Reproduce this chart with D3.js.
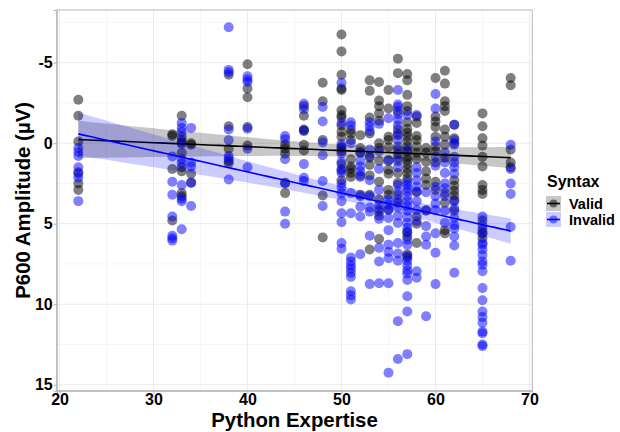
<!DOCTYPE html>
<html>
<head>
<meta charset="utf-8">
<script src="https://cdn.jsdelivr.net/npm/d3@7"></script>
<style>
  body { margin: 0; background: #fff; }
  text { font-family: "Liberation Sans", Arial, sans-serif; font-weight: bold; }
</style>
</head>
<body>
<svg id="chart" width="620" height="432"></svg>
<script>
// expertise levels (x) and P600 amplitudes read per level
const expertise = [22, 32, 33, 34, 38, 40, 44, 46, 48, 50, 51, 52, 53, 54, 55, 56, 57, 58, 59, 60, 61, 62, 65, 68];

const validAmp = [
    [-2.7, -1.7, -0.1, 1.8, 2.5, 2.9],
    [-0.55, -0.45, 1.6, 4.8],
    [-1.7, -0.2, -0.05, 0.6, 1.5, 1.75, 3.1, 3.3],
    [0, 0.1, 1.9, 2.45],
    [-4.25, -1.05, 0.35, 1.1, 1.25],
    [-4.9, -3.4, -2.85, -1.0, 0.15],
    [0.1, 0.35, 0.65, 2.45, 3.1],
    [-2.3, -1.7, -0.85, -0.75, 0.1, 0.45],
    [-3.75, -2.6, -0.2, 3.25, 5.85],
    [-6.75, -5.7, -4.25, -3.4, -3.3, -2.05, -1.75, -1.6, -1.1, -0.7, -0.4, 0.2, 0.5, 1.3, 1.7, 2.3],
    [-0.8, -0.6, -0.2, 1.0, 1.45, 1.6, 1.85, 2.1],
    [-0.5, 0.3, 0.6, 2.0, 3.2],
    [-3.9, -3.25, -1.6, -0.6, 0.9, 1.35, 2.0, 3.2, 6.6],
    [-3.8, -2.65, -2.3, -1.85, -1.4, 0.0, 0.3, 1.1, 2.4, 3.5, 4.1, 4.5, 5.95],
    [-3.3, -2.15, -0.4, -0.2, 0.25, 1.05, 1.65, 1.9, 2.9, 3.2, 4.1],
    [-5.25, -4.35, -2.0, -0.85, -0.5, 0.2, 0.65, 1.1, 1.85, 2.45, 3.2, 3.7],
    [-4.3, -3.9, -3.0, -2.3, -2.0, -1.3, -0.9, -0.65, -0.4, -0.1, 0.2, 0.5, 0.85, 1.05, 1.3, 1.6, 1.85, 2.2, 5.5, 5.8, 6.9, 7.1],
    [-1.65, -1.25, -0.45, -0.2, 0.2, 0.6, 1.0, 3.05, 4.55, 5.0, 6.2],
    [0.3, 0.6, 1.15, 1.75, 2.2, 2.6, 4.2],
    [-4.05, -1.65, -1.35, -1.0, -0.4, 0.2, 0.5, 1.2, 2.4, 2.9],
    [-4.5, -3.7, -2.6, -2.3, -2.0, -0.85, -0.4, 0.1, 0.9, 3.1, 3.7, 5.4, 5.6],
    [-1.15, -0.3, 0.0, 2.3, 2.65, 2.95, 3.25, 3.55, 4.2],
    [-1.85, -1.05, -0.3, 0.15, 0.85, 1.45, 2.6, 2.9, 3.15, 4.8, 5.35, 5.6, 5.9],
    [-4.05, -3.6, 0.4, 1.2, 1.5]
];

const invalidAmp = [
    [0.3, 0.55, 0.8, 1.5, 1.9, 2.15, 3.6],
    [0.83, 2.4, 3.2, 4.55, 5.75, 5.9, 6.05],
    [-1.25, -0.95, -0.7, -0.4, 0.05, 1.0, 1.25, 2.6, 3.45, 3.6, 5.35],
    [-0.95, 1.2, 1.45, 2.45, 3.9],
    [-7.2, -4.55, -4.4, -0.85, -0.2, 0.8, 0.95, 2.25],
    [-4.15, -3.95, -3.8, -0.9, 0.35, 1.5],
    [-0.45, -0.25, 1.0, 2.5, 4.25, 5.0],
    [-2.45, -2.1, -0.8, 1.3, 2.15, 2.35],
    [-2.25, -1.35, -0.05, 0.75, 2.35, 3.9],
    [-3.75, -1.25, 0.05, 0.3, 0.65, 1.15, 1.6, 1.85, 2.5, 2.75, 3.1, 3.6, 4.35, 4.9, 6.2, 6.55],
    [-1.3, -1.1, 0.0, 3.1, 4.35, 7.1, 7.35, 7.6, 7.8, 8.05, 8.3, 9.2, 9.45, 9.7],
    [0.55, 1.1, 1.45, 1.75, 2.1, 3.3, 3.95, 4.55, 6.9],
    [-1.3, -1.05, -0.75, 0.4, 0.8, 2.3, 3.3, 4.0, 4.25, 5.75, 8.75],
    [-1.2, 0.5, 1.6, 2.9, 3.85, 4.25, 4.7, 6.5, 7.35, 8.7],
    [-1.55, 1.1, 3.5, 3.8, 4.15, 4.65, 5.4, 6.3, 6.75, 7.15, 8.7, 14.25],
    [-3.3, -2.4, -2.25, -1.8, -1.45, -1.1, -0.6, -0.2, 0.4, 0.95, 1.5, 2.6, 3.0, 3.5, 3.95, 4.5, 4.95, 6.2, 6.85, 7.3, 11.05, 13.4],
    [-1.75, 0.4, 2.4, 2.6, 2.8, 3.0, 3.3, 3.6, 3.9, 4.2, 4.6, 4.95, 5.25, 5.55, 6.0, 6.3, 7.0, 7.3, 7.6, 7.9, 8.1, 8.5, 9.5, 10.45, 13.1],
    [-1.75, 1.5, 1.85, 2.3, 2.7, 3.0, 3.6, 4.15, 4.85, 7.95, 8.35],
    [3.05, 4.15, 5.15, 5.8, 6.3, 10.75],
    [-3.05, -2.15, -0.1, 0.85, 1.4, 2.7, 3.3, 3.75, 4.15, 5.6, 6.8, 8.75],
    [0.6, 1.2, 1.85, 2.5, 2.8, 3.3, 4.2, 4.95],
    [-1.15, -0.2, 0.1, 0.85, 1.2, 1.5, 1.9, 3.6, 4.05, 4.65, 5.1, 5.3, 5.8, 6.35, 8.05],
    [4.55, 5.1, 5.6, 6.2, 6.3, 6.6, 6.95, 7.35, 7.55, 7.95, 9.0, 9.75, 10.45, 10.8, 11.15, 11.7, 11.8, 12.5, 12.6],
    [0.1, 1.6, 2.5, 3.15, 5.2, 7.3]
];

const xTicks = [20, 30, 40, 50, 60, 70];
const yTicks = [-5, 0, 5, 10, 15];
const groups = ['Valid', 'Invalid'];
const colors = {'Valid': '#000000', 'Invalid': '#0000ff'};

let panel = {'left': 56.7, 'right': 532.3, 'top': 10, 'bottom': 390.7};
let fontFamily = '"Liberation Sans", Arial, sans-serif';

let svg = d3.select('#chart');

let x = d3.scaleLinear().domain([19.7, 70.3]).range([panel.left, panel.right]);
let y = d3.scaleLinear().domain([-8.27, 15.37]).range([panel.top, panel.bottom]);

// flatten into points
let points = [];
expertise.forEach((e, i) => {
    validAmp[i].forEach(v => points.push({'x': e, 'y': v, 'g': 'Valid'}));
    invalidAmp[i].forEach(v => points.push({'x': e, 'y': v, 'g': 'Invalid'}));
});

// grid - minor then major
let grid = svg.append('g');
d3.range(25, 70, 10).forEach(v => {
    grid.append('line').attr('x1', x(v)).attr('x2', x(v)).attr('y1', panel.top).attr('y2', panel.bottom)
        .attr('stroke', '#f4f4f4').attr('stroke-width', 0.8);
});
[-7.5, -2.5, 2.5, 7.5, 12.5].forEach(v => {
    grid.append('line').attr('x1', panel.left).attr('x2', panel.right).attr('y1', y(v)).attr('y2', y(v))
        .attr('stroke', '#f4f4f4').attr('stroke-width', 0.8);
});
xTicks.forEach(v => {
    grid.append('line').attr('x1', x(v)).attr('x2', x(v)).attr('y1', panel.top).attr('y2', panel.bottom)
        .attr('stroke', '#ebebeb').attr('stroke-width', 1);
});
yTicks.forEach(v => {
    grid.append('line').attr('x1', panel.left).attr('x2', panel.right).attr('y1', y(v)).attr('y2', y(v))
        .attr('stroke', '#ebebeb').attr('stroke-width', 1);
});

// points
svg.append('g')
    .selectAll('circle')
    .data(points)
    .enter().append('circle')
    .attr('cx', d => x(d.x))
    .attr('cy', d => y(d.y))
    .attr('r', 5)
    .attr('fill', d => colors[d.g])
    .attr('fill-opacity', 0.5);

// linear fit with 95% band
let fit = function (g) {
    let pts = points.filter(p => p.g === g);
    let n = pts.length;
    let mx = d3.mean(pts, p => p.x), my = d3.mean(pts, p => p.y);
    let sxx = d3.sum(pts, p => (p.x - mx) ** 2);
    let sxy = d3.sum(pts, p => (p.x - mx) * (p.y - my));
    let b = sxy / sxx, a = my - b * mx;
    let sse = d3.sum(pts, p => (p.y - a - b * p.x) ** 2);
    let s = Math.sqrt(sse / (n - 2));
    let xs = d3.range(0, 81).map(i => 22 + i * (68 - 22) / 80);
    return xs.map(v => {
        let se = s * Math.sqrt(1 / n + (v - mx) ** 2 / sxx);
        return {'x': v, 'y': a + b * v, 'lo': a + b * v - 1.97 * se, 'hi': a + b * v + 1.97 * se};
    });
};

let area = d3.area().x(d => x(d.x)).y0(d => y(d.lo)).y1(d => y(d.hi));
let line = d3.line().x(d => x(d.x)).y(d => y(d.y));

groups.forEach(g => {
    let f = fit(g);
    svg.append('path').attr('d', area(f))
        .attr('fill', colors[g])
        .attr('fill-opacity', g === 'Valid' ? 0.22 : 0.2);
    svg.append('path').attr('d', line(f))
        .attr('fill', 'none')
        .attr('stroke', colors[g])
        .attr('stroke-width', 1.6);
});

// panel border
svg.append('rect')
    .attr('x', panel.left).attr('y', panel.top)
    .attr('width', panel.right - panel.left).attr('height', panel.bottom - panel.top)
    .attr('fill', 'none').attr('stroke', '#c4c4c4').attr('stroke-width', 1.2);

// x axis
let axis_x = d3.axisBottom(x).tickValues(xTicks).tickSize(3).tickPadding(0).tickFormat(d => d);
let gx = svg.append('g')
    .attr('transform', `translate(0, ${panel.bottom})`)
    .call(axis_x);
gx.select('.domain').attr('stroke', '#b0b0b0');
gx.selectAll('.tick line').attr('stroke', '#b0b0b0');
gx.selectAll('text').attr('font-size', '16px').attr('fill', '#000')
    .attr('font-family', fontFamily).attr('font-weight', 'bold');

// y axis
let axis_y = d3.axisLeft(y).tickValues(yTicks).tickSize(3).tickPadding(1).tickFormat(d => String(d));
let gy = svg.append('g')
    .attr('transform', `translate(${panel.left}, 0)`)
    .call(axis_y);
gy.select('.domain').attr('stroke', '#b0b0b0');
gy.selectAll('.tick line').attr('stroke', '#b0b0b0');
gy.selectAll('text').attr('font-size', '16px').attr('fill', '#000')
    .attr('font-family', fontFamily).attr('font-weight', 'bold');

// axis titles
svg.append('text')
    .attr('x', (panel.left + panel.right) / 2)
    .attr('y', 427)
    .attr('text-anchor', 'middle')
    .attr('font-size', '20.4px')
    .text('Python Expertise');

svg.append('text')
    .attr('transform', `translate(30, ${(panel.top + panel.bottom) / 2}) rotate(-90)`)
    .attr('text-anchor', 'middle')
    .attr('font-size', '20.4px')
    .text('P600 Amplitude (µV)');

// legend
let legend = svg.append('g').attr('transform', 'translate(546, 0)');
legend.append('text').attr('x', 1).attr('y', 187).attr('font-size', '16px').text('Syntax');
groups.forEach((g, i) => {
    let ky = 196 + i * 16;
    legend.append('rect').attr('x', 0).attr('y', ky).attr('width', 15).attr('height', 15)
        .attr('fill', colors[g]).attr('fill-opacity', g === 'Valid' ? 0.22 : 0.2);
    legend.append('circle').attr('cx', 7.5).attr('cy', ky + 7.5).attr('r', 4)
        .attr('fill', colors[g]).attr('fill-opacity', 0.5);
    legend.append('line').attr('x1', 1).attr('x2', 14).attr('y1', ky + 7.5).attr('y2', ky + 7.5)
        .attr('stroke', colors[g]).attr('stroke-width', 1.6);
    legend.append('text').attr('x', 23).attr('y', ky + 13).attr('font-size', '14.5px').text(g);
});
</script>
</body>
</html>
